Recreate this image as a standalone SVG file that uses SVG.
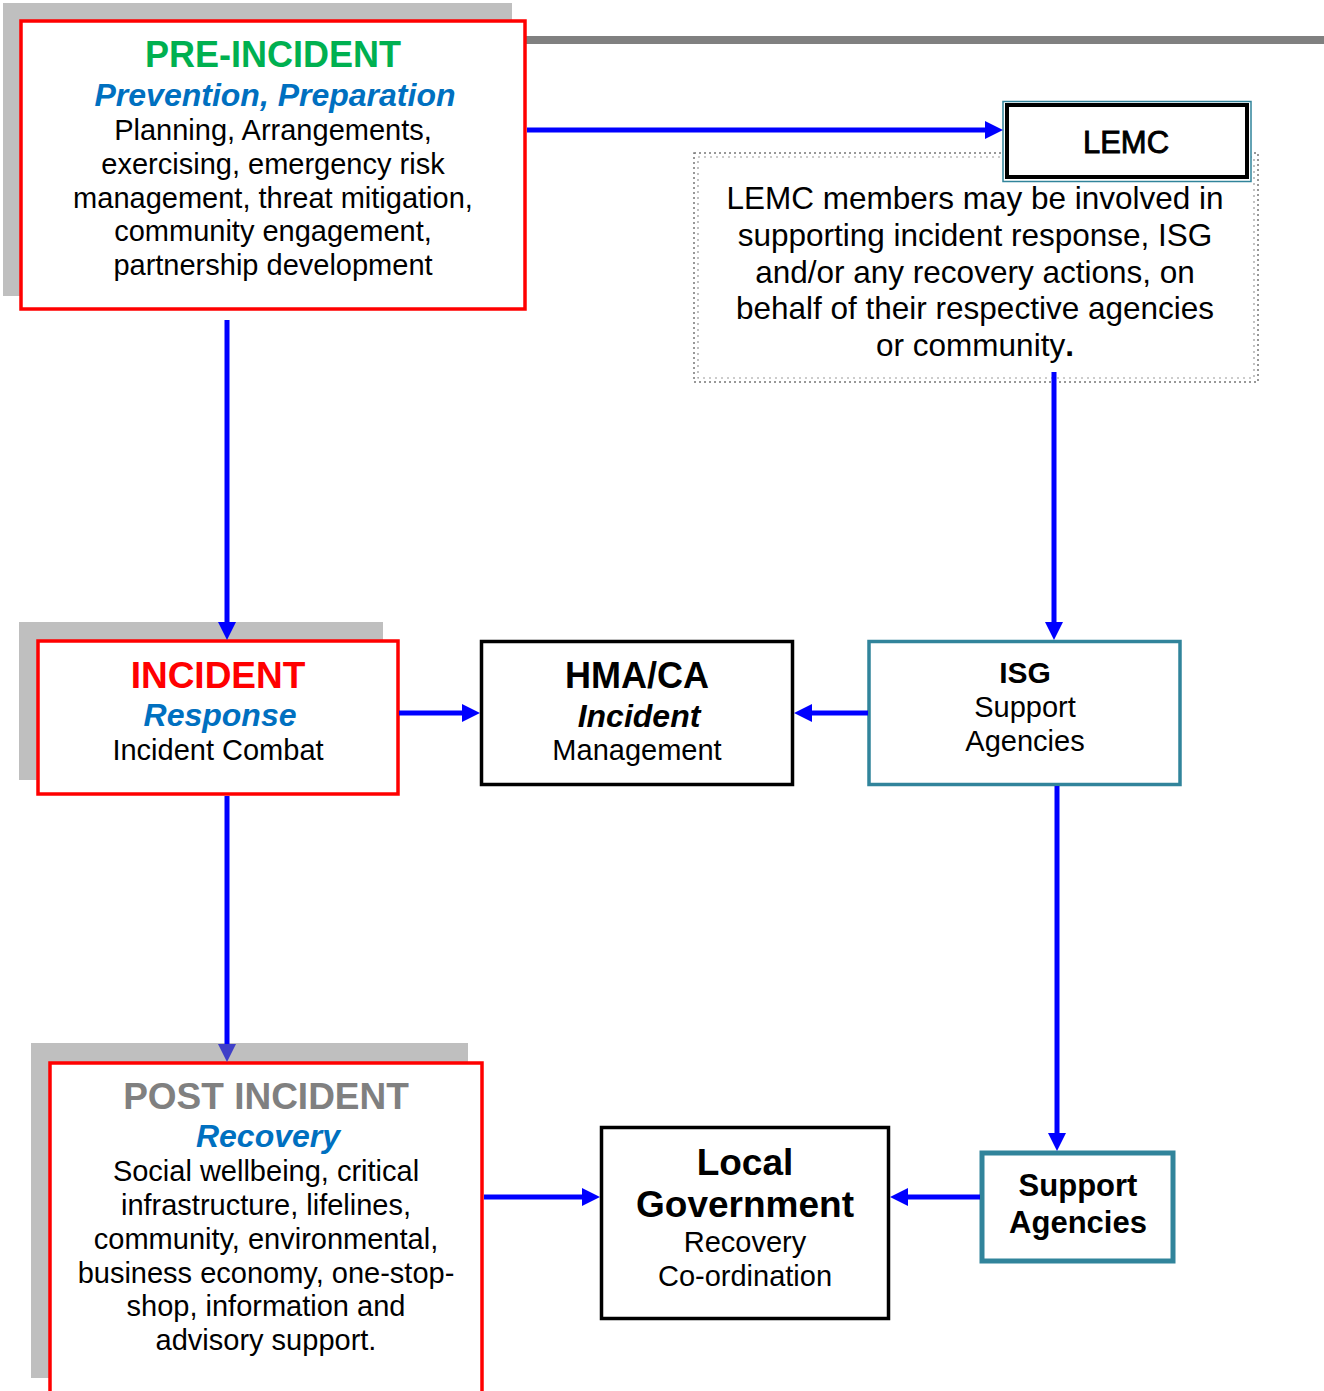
<svg xmlns="http://www.w3.org/2000/svg" width="1324" height="1391" viewBox="0 0 1324 1391">
<style>
text{font-family:"Liberation Sans",Arial,sans-serif;text-anchor:middle;fill:#000}
.h{font-weight:bold;font-size:37px}
.s{font-weight:bold;font-style:italic;font-size:32px;fill:#0070C0}
.b{font-size:29px}
.shadow{fill:#BFBFBF}
.red{fill:#fff;stroke:#FF0000;stroke-width:3.5}
.blk{fill:#fff;stroke:#000;stroke-width:3.5}
.teal{fill:#fff;stroke:#31849B;stroke-width:3.5}
.conn{stroke:#0000FF;stroke-width:5;fill:none}
</style>
<defs>
<marker id="arr" markerUnits="userSpaceOnUse" viewBox="0 0 18 18" markerWidth="18" markerHeight="18" refX="8" refY="9" orient="auto">
<path d="M0,0 L18,9 L0,18 z" fill="#0000FF"/>
</marker>
<marker id="arr2" markerUnits="userSpaceOnUse" viewBox="0 0 18 18" markerWidth="18" markerHeight="18" refX="8" refY="9" orient="auto">
<path d="M0,0 L18,9 L0,18 z" fill="#3F3FC8"/>
</marker>
</defs>
<rect x="526" y="36" width="798" height="8" fill="#808080"/>
<g id="pre-incident">
<rect class="shadow" x="3" y="3" width="509" height="293"/>
<rect class="red" x="21" y="21" width="504" height="288"/>
<text class="h" x="273" y="67" style="fill:#00B050;font-size:36px">PRE-INCIDENT</text>
<text class="s" x="275" y="106">Prevention, Preparation</text>
<text class="b" x="273" y="140">Planning, Arrangements,</text>
<text class="b" x="273" y="174">exercising, emergency risk</text>
<text class="b" x="273" y="208">management, threat mitigation,</text>
<text class="b" x="273" y="241">community engagement,</text>
<text class="b" x="273" y="275">partnership development</text>
</g>
<g id="lemc-note">
<rect x="694" y="153" width="564" height="229" fill="#fff" stroke="#777" stroke-width="1.5" stroke-dasharray="2 3"/>
<rect x="698" y="157" width="556" height="221" fill="none" stroke="#999" stroke-width="1.2" stroke-dasharray="2 4"/>
<text x="975" y="209" style="font-size:31.5px">LEMC members may be involved in</text>
<text x="975" y="246" style="font-size:31.5px">supporting incident response, ISG</text>
<text x="975" y="283" style="font-size:31.5px">and/or any recovery actions, on</text>
<text x="975" y="319" style="font-size:31.5px">behalf of their respective agencies</text>
<text x="975" y="356" style="font-size:31.5px">or community<tspan font-weight="bold">.</tspan></text>
</g>
<g id="lemc">
<rect x="1003" y="101.5" width="248" height="80" fill="#fff" stroke="#31849B" stroke-width="1.5"/>
<rect x="1007" y="105" width="240" height="72" fill="none" stroke="#000" stroke-width="4"/>
<text x="1126" y="153" style="font-size:31px" stroke="#000" stroke-width="0.9">LEMC</text>
</g>
<g id="incident">
<rect class="shadow" x="19" y="622" width="364" height="158"/>
<rect class="red" x="38" y="641" width="360" height="153"/>
<text class="h" x="218" y="688" style="fill:#FF0000">INCIDENT</text>
<text class="s" x="220" y="726">Response</text>
<text class="b" x="218" y="760">Incident Combat</text>
</g>
<g id="hma-ca">
<rect class="blk" x="481.5" y="641.5" width="311" height="143"/>
<text class="h" x="637" y="688" style="font-size:36px">HMA/CA</text>
<text class="s" x="639" y="727" style="fill:#000">Incident</text>
<text class="b" x="637" y="760">Management</text>
</g>
<g id="isg">
<rect class="teal" x="869" y="641.5" width="311" height="143"/>
<text class="h" x="1025" y="683" style="font-size:30px">ISG</text>
<text class="b" x="1025" y="717">Support</text>
<text class="b" x="1025" y="751">Agencies</text>
</g>
<g id="post-incident">
<rect class="shadow" x="31" y="1043" width="437" height="335"/>
<rect class="red" x="50" y="1063" width="432" height="330"/>
<text class="h" x="266" y="1109" style="fill:#808080">POST INCIDENT</text>
<text class="s" x="268" y="1147">Recovery</text>
<text class="b" x="266" y="1181">Social wellbeing, critical</text>
<text class="b" x="266" y="1215">infrastructure, lifelines,</text>
<text class="b" x="266" y="1249">community, environmental,</text>
<text class="b" x="266" y="1283">business economy, one-stop-</text>
<text class="b" x="266" y="1316">shop, information and</text>
<text class="b" x="266" y="1350">advisory support.</text>
</g>
<g id="local-government">
<rect class="blk" x="601.5" y="1127.5" width="287" height="191"/>
<text class="h" x="745" y="1175">Local</text>
<text class="h" x="745" y="1217">Government</text>
<text class="b" x="745" y="1252">Recovery</text>
<text class="b" x="745" y="1286">Co-ordination</text>
</g>
<g id="support-agencies">
<rect x="982" y="1153" width="191" height="108" fill="#fff" stroke="#31849B" stroke-width="5"/>
<text class="h" x="1078" y="1196" style="font-size:31px">Support</text>
<text class="h" x="1078" y="1233" style="font-size:31px">Agencies</text>
</g>
<g id="connectors">
<line class="conn" x1="527" y1="130" x2="993" y2="130" marker-end="url(#arr)"/>
<line class="conn" x1="227" y1="320" x2="227" y2="630" marker-end="url(#arr)"/>
<line class="conn" x1="1054" y1="372" x2="1054" y2="630" marker-end="url(#arr)"/>
<line class="conn" x1="399" y1="713" x2="470" y2="713" marker-end="url(#arr)"/>
<line class="conn" x1="868" y1="713" x2="804" y2="713" marker-end="url(#arr)"/>
<line class="conn" x1="1057" y1="786" x2="1057" y2="1141" marker-end="url(#arr)"/>
<line class="conn" x1="227" y1="796" x2="227" y2="1052" marker-end="url(#arr2)"/>
<line class="conn" x1="484" y1="1197" x2="590" y2="1197" marker-end="url(#arr)"/>
<line class="conn" x1="980" y1="1197" x2="900" y2="1197" marker-end="url(#arr)"/>
</g>
</svg>
